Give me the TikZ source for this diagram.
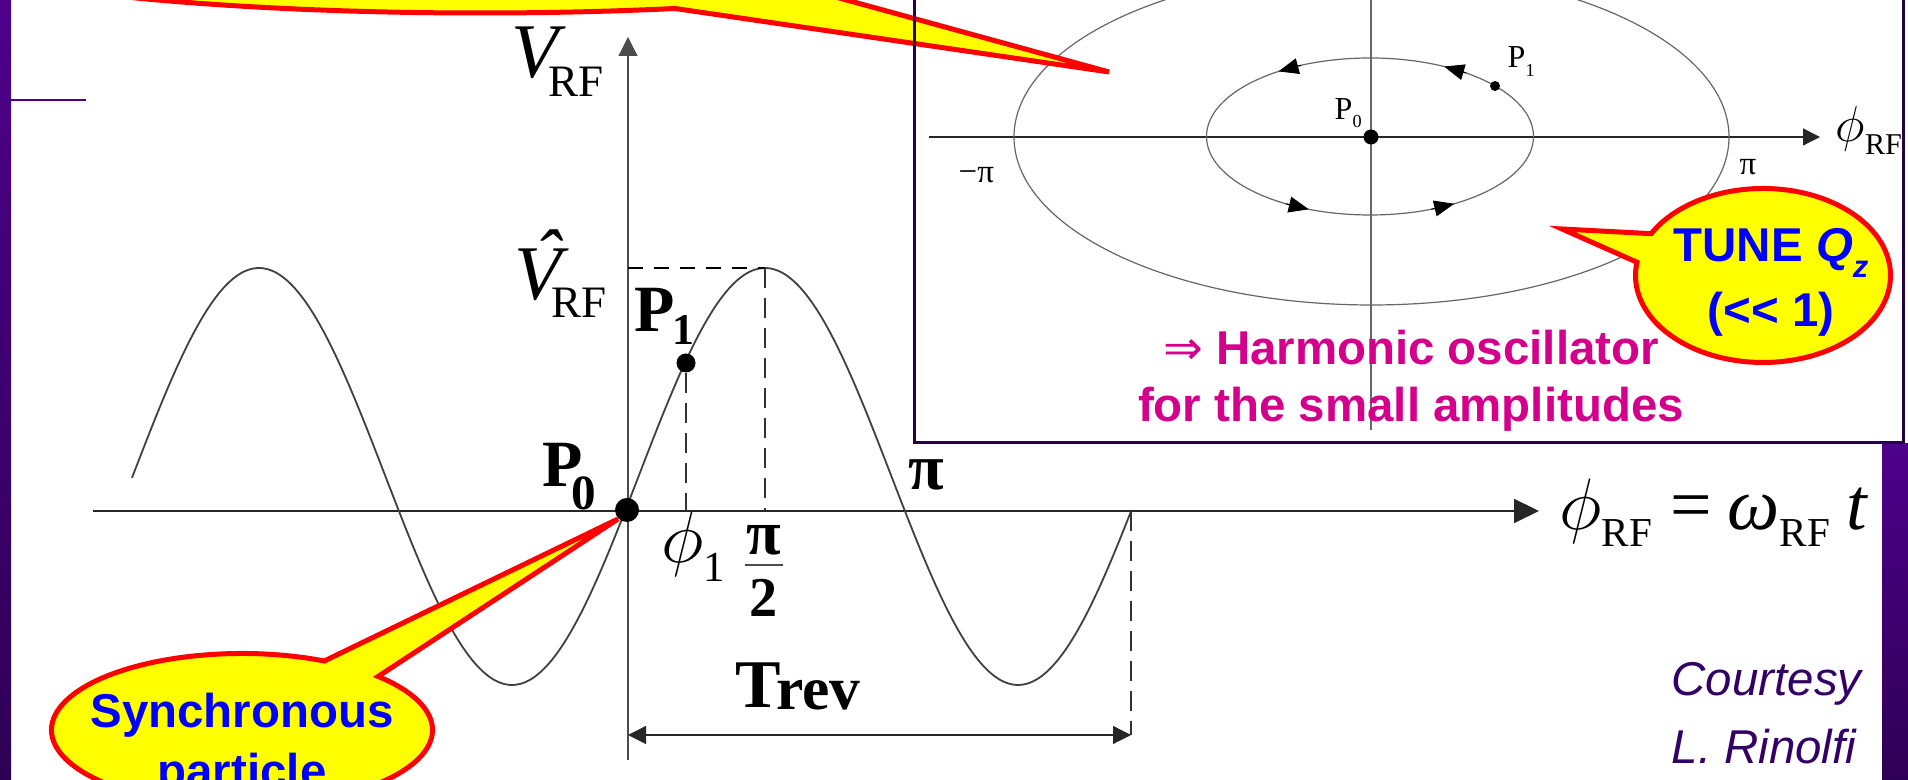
\documentclass[tikz,border=0pt]{standalone}
\usepackage{fontspec}
\setmainfont{Liberation Sans}
\newfontfamily\tms{Liberation Serif}
\newfontfamily\djv{DejaVu Sans}
\usetikzlibrary{arrows.meta,calc,shapes.callouts}
\definecolor{slidepurple}{RGB}{78,0,140}
\definecolor{slidedark}{RGB}{46,0,84}
\definecolor{boxline}{RGB}{40,0,72}
\definecolor{calloutred}{RGB}{255,0,0}
\definecolor{calloutyellow}{RGB}{255,255,0}
\definecolor{tuneblue}{RGB}{0,0,255}
\definecolor{harmmagenta}{RGB}{212,0,140}
\definecolor{creditpurple}{RGB}{51,0,102}

\begin{document}
\begin{tikzpicture}[
  axis/.style={draw=black!85, line width=0.02cm},
  thinaxis/.style={draw=black!85, line width=0.012cm},
  wave/.style={draw=black!75, line width=0.018cm},
  orbit/.style={draw=black!60, line width=0.012cm},
  peakdash/.style={draw=black, line width=0.02cm, dash pattern=on 0.15cm off 0.11cm},
  guidedash/.style={draw=black!80, line width=0.012cm, dash pattern=on 0.2cm off 0.1cm},
  dot/.style={circle, fill=black, inner sep=0pt},
  lbl/.style={inner sep=0pt, anchor=base west},
  bubble/.style={ellipse callout, draw=calloutred, fill=calloutyellow, line width=0.05cm, inner sep=0pt, callout pointer arc=20},
  bubbleline/.style={draw=calloutred, fill=calloutyellow, line width=0.05cm},
  bubbletext/.style={inner sep=0pt, align=center, text=tuneblue},
  bighead/.style={-{Triangle[length=0.25cm,width=0.24cm]}},
  uphead/.style={-{Triangle[length=0.19cm,width=0.19cm]}},
  spanhead/.style={{Triangle[length=0.18cm,width=0.18cm]}-{Triangle[length=0.18cm,width=0.18cm]}},
  insethead/.style={-{Triangle[length=0.17cm,width=0.17cm]}},
  orbithead/.style={-{Triangle[length=0.2cm,width=0.16cm]}, draw=black, line width=0.01cm}
]
\useasboundingbox (0,0) rectangle (19.08,7.80);
\clip (0,0) rectangle (19.08,7.80);

\fill[top color=slidepurple, bottom color=slidedark] (0,0) rectangle (0.11,7.80);
\draw[slidepurple, line width=0.016cm] (0.11,6.80) -- (0.86,6.80);
\fill[top color=slidepurple, bottom color=slidedark] (18.82,0) rectangle (19.08,3.36);

\coordinate (xstart) at (0.93,2.69);
\coordinate (xend) at (15.39,2.69);
\coordinate (ystart) at (6.28,0.20);
\coordinate (yend) at (6.28,7.43);
\draw[axis, bighead] (xstart) -- (xend);
\draw[thinaxis, uphead, draw=black!70] (ystart) -- (yend);

\draw[wave] plot[domain=1.32:11.31, samples=250, smooth] (\x,{3.035+2.085*sin(360*(\x-6.385)/5.06)});

\coordinate (vpeak) at (6.28,5.12);
\coordinate (peak) at (7.65,5.12);
\coordinate (peakfoot) at (7.65,2.69);
\coordinate (p1foot) at (6.86,2.69);
\coordinate (revtop) at (11.31,2.69);
\coordinate (revleft) at (6.28,0.45);
\coordinate (revright) at (11.31,0.45);
\draw[peakdash] (vpeak) -- (peak);
\draw[guidedash] (peak) -- (peakfoot);
\draw[guidedash] (revtop) -- (revright);
\draw[thinaxis, spanhead] (revleft) -- (revright);

\node[dot, minimum size=0.19cm] (p1) at (6.86,4.17) {};
\node[dot, minimum size=0.24cm] (p0) at (6.27,2.70) {};
\draw[guidedash] (p1) -- (p1foot);

\node[lbl] (vrf) at (5.11,7.02) {\tms\fontsize{22}{22}\selectfont\itshape V\upshape\hspace{-0.1cm}\raisebox{-0.19cm}{\fontsize{12.8}{12.8}\selectfont RF}};
\node[lbl] (vhat) at (5.14,4.80) {\tms\fontsize{22}{22}\selectfont\itshape\rlap{\hspace{0.2cm}\raisebox{0.16cm}{ˆ}}V\upshape\hspace{-0.1cm}\raisebox{-0.18cm}{\fontsize{12.8}{12.8}\selectfont RF}};
\node[lbl] (p1lbl) at (6.34,4.48) {\tms\bfseries\fontsize{18.8}{18.8}\selectfont P\hspace{-0.03cm}\raisebox{-0.13cm}{\fontsize{12.5}{12.5}\selectfont 1}};
\node[lbl] (p0lbl) at (5.42,2.93) {\tms\bfseries\fontsize{18.8}{18.8}\selectfont P\hspace{-0.12cm}\raisebox{-0.23cm}{\fontsize{14}{14}\selectfont 0}};
\node[lbl] (phi1) at (6.61,2.17) {\tms\fontsize{19.7}{19.7}\selectfont$\phi$\raisebox{-0.19cm}{\fontsize{12.2}{12.2}\selectfont 1}};
\node[lbl, anchor=base] (halfpinum) at (7.64,2.25) {\tms\bfseries\fontsize{18}{18}\selectfont π};
\node[lbl, anchor=base] (halfpiden) at (7.64,1.63) {\tms\bfseries\fontsize{16}{16}\selectfont 2};
\draw[black!70, line width=0.02cm] (7.45,2.15) -- (7.83,2.15);
\node[lbl] (pilbl) at (9.08,2.90) {\tms\bfseries\fontsize{18.5}{18.5}\selectfont π};
\node[lbl] (trev) at (7.35,0.72) {\tms\bfseries\fontsize{19.4}{19.4}\selectfont T\hspace{-0.05cm}\raisebox{-0.02cm}{\fontsize{17.5}{17.5}\selectfont rev}};
\node[lbl] (phieq) at (15.59,2.50) {\tms\fontsize{21}{21}\selectfont$\phi$\raisebox{-0.17cm}{\fontsize{11.7}{11.7}\selectfont RF}\hspace{0.18cm}=\hspace{0.16cm}\itshape ω\upshape\raisebox{-0.17cm}{\fontsize{11.7}{11.7}\selectfont RF}\hspace{0.16cm}\itshape t};

\fill[white] (9.14,3.37) rectangle (19.03,7.90);
\coordinate (ixstart) at (9.29,6.43);
\coordinate (ixend) at (18.20,6.43);
\coordinate (iytop) at (13.71,7.85);
\coordinate (iybottom) at (13.71,3.50);
\draw[thinaxis, insethead] (ixstart) -- (ixend);
\draw[thinaxis, draw=black!60] (iytop) -- (iybottom);
\draw[orbit] (13.715,6.43) ellipse [x radius=3.575, y radius=1.68];
\draw[orbit] (13.70,6.435) ellipse [x radius=1.635, y radius=0.785];
\draw[orbithead] ({13.70+1.635*cos(54)},{6.435+0.785*sin(54)}) -- ({13.70+1.635*cos(63)},{6.435+0.785*sin(63)});
\draw[orbithead] ({13.70+1.635*cos(115)},{6.435+0.785*sin(115)}) -- ({13.70+1.635*cos(124)},{6.435+0.785*sin(124)});
\draw[orbithead] ({13.70+1.635*cos(239)},{6.435+0.785*sin(239)}) -- ({13.70+1.635*cos(248)},{6.435+0.785*sin(248)});
\draw[orbithead] ({13.70+1.635*cos(292)},{6.435+0.785*sin(292)}) -- ({13.70+1.635*cos(301)},{6.435+0.785*sin(301)});
\node[dot, minimum size=0.10cm] (ip1) at (14.95,6.94) {};
\node[dot, minimum size=0.15cm] (ip0) at (13.71,6.43) {};

\node[lbl] (iphi) at (18.35,6.38) {\tms\fontsize{14.1}{14.1}\selectfont$\phi$\raisebox{-0.13cm}{\fontsize{8.6}{8.6}\selectfont RF}};
\node[lbl] (ip1lbl) at (15.07,7.12) {\tms\fontsize{9.1}{9.1}\selectfont P\raisebox{-0.09cm}{\fontsize{5.2}{5.2}\selectfont 1}};
\node[lbl] (ip0lbl) at (13.34,6.60) {\tms\fontsize{9.1}{9.1}\selectfont P\raisebox{-0.08cm}{\fontsize{5.2}{5.2}\selectfont 0}};
\node[lbl] (mpi) at (9.58,5.97) {\tms\fontsize{9.4}{9.4}\selectfont −π};
\node[lbl] (ppi) at (17.39,6.05) {\tms\fontsize{9.4}{9.4}\selectfont π};

\node[inner sep=0pt, align=center, text=harmmagenta, font=\bfseries\fontsize{13.5}{16.2}\selectfont] (harm) at (14.11,3.99) {{\djv\mdseries ⇒} Harmonic oscillator\\for the small amplitudes};

\draw[bubbleline] (11.09,7.08) -- ($(4.80,8.47)+(-70.7:5.9 and 0.8)$) arc[start angle=-70.7, end angle=-413, x radius=5.9, y radius=0.8] -- cycle;

\draw[boxline, line width=0.03cm] (9.14,7.90) -- (9.14,3.37) -- (19.03,3.37) -- (19.03,7.90);

\coordinate (tunetip) at (15.62,5.51);
\node[bubble, minimum width=2.55cm, minimum height=1.74cm, callout absolute pointer={(tunetip)}] (tune) at (17.63,5.045) {};
\node[bubbletext, font=\bfseries\fontsize{13.5}{18.5}\selectfont] (tunetxt) at (17.71,4.98) {TUNE \textit{Q}\raisebox{-0.16cm}{\fontsize{8.8}{8.8}\selectfont\textit{z}}\\(<\kern0pt< 1)};

\node[bubble, minimum width=3.81cm, minimum height=1.53cm, callout absolute pointer={(p0.south west)}] (sync) at (2.42,0.50) {};
\node[bubbletext, font=\bfseries\fontsize{13.5}{17}\selectfont] (synctxt) at (2.42,0.35) {Synchronous\\particle};

\node[inner sep=0pt, anchor=west, align=left, text=creditpurple, font=\itshape\fontsize{13.5}{19.3}\selectfont] (credit) at (16.71,0.665) {Courtesy\\L. Rinolfi};
\end{tikzpicture}
\end{document}
